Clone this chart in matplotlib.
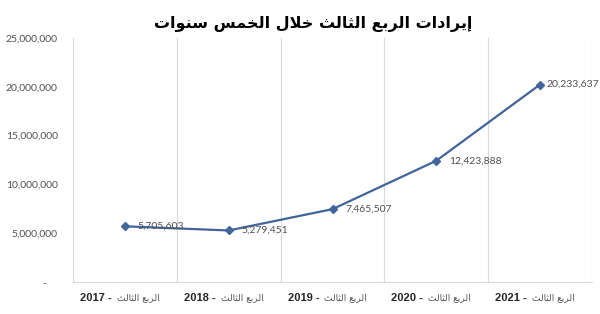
import unicodedata
import matplotlib
matplotlib.use('Agg')
import matplotlib.pyplot as plt
from matplotlib.ticker import FuncFormatter, MultipleLocator

# data
years = ['2017', '2018', '2019', '2020', '2021']
quarter = 'الربع الثالث'
revenue = [5705603, 5279451, 7465507, 12423888, 20233637]
title = 'إيرادات الربع الثالث خلال الخمس سنوات'

# matplotlib has no arabic shaping / bidi, so do a small one by hand
RIGHT_JOIN = set('اأإآدذرزوةى')
LAM_ALEF = {'ا': 'ARABIC LIGATURE LAM WITH ALEF',
            'أ': 'ARABIC LIGATURE LAM WITH ALEF WITH HAMZA ABOVE',
            'إ': 'ARABIC LIGATURE LAM WITH ALEF WITH HAMZA BELOW',
            'آ': 'ARABIC LIGATURE LAM WITH ALEF WITH MADDA ABOVE'}


def is_arabic(ch):
    return '\u0600' <= ch <= '\u06ff'


def shape_rtl(text):
    units = []
    i = 0
    while i < len(text):
        ch = text[i]
        if ch == 'ل' and i + 1 < len(text) and text[i + 1] in LAM_ALEF:
            units.append((LAM_ALEF[text[i + 1]], False, True))
            i += 2
            continue
        if is_arabic(ch):
            units.append((unicodedata.name(ch), ch not in RIGHT_JOIN, True))
        else:
            units.append((ch, False, False))
        i += 1
    out = []
    for k, (name, dual, arab) in enumerate(units):
        if not arab:
            out.append(name)
            continue
        prev = k > 0 and units[k - 1][2] and units[k - 1][1]
        nxt = dual and k + 1 < len(units) and units[k + 1][2]
        if prev and nxt:
            f = 'MEDIAL'
        elif prev:
            f = 'FINAL'
        elif nxt:
            f = 'INITIAL'
        else:
            f = 'ISOLATED'
        out.append(unicodedata.lookup(name + ' ' + f + ' FORM'))
    return ''.join(reversed(out))


plt.rcParams['font.family'] = ['DejaVu Sans']
num_font = ['Lato', 'DejaVu Sans']

fig = plt.figure(figsize=(6, 3.14), dpi=100)
ax = fig.add_axes([73 / 600, 1 - 282 / 314, 519 / 600, 244 / 314])

x = list(range(len(years)))
blue = '#41649b'
ax.plot(x, revenue, color=blue, lw=1.6, marker='D', ms=4.5, zorder=3)

label_dx = [13, 13, 13, 13, 6]
for xi, v, dx in zip(x, revenue, label_dx):
    ax.annotate(f'{v:,}', (xi, v), xytext=(dx, 0), textcoords='offset pixels',
                ha='left', va='center', fontsize=7.5, color='#505050',
                family=num_font)

ax.set_xlim(-0.5, len(years) - 0.5)
ax.set_ylim(0, 25000000)
ax.yaxis.set_major_locator(MultipleLocator(5000000))
ax.yaxis.set_major_formatter(FuncFormatter(lambda v, p: '-    ' if v == 0 else f'{v:,.0f}'))
ax.tick_params(axis='y', length=0, pad=11, labelsize=7.5, labelcolor='#505050')
for t in ax.get_yticklabels():
    t.set_family(num_font)

ax.set_xticks(x)
ax.set_xticklabels([''] * len(x))
ax.tick_params(axis='x', length=0)
ax.set_xticks([i - 0.5 for i in range(len(years) + 1)], minor=True)
ax.tick_params(axis='x', which='minor', length=0)
ax.grid(axis='x', which='minor', color='#d9d9d9', lw=0.8)
ax.grid(axis='x', which='major', visible=False)

for s in ['top', 'left', 'right']:
    ax.spines[s].set_visible(False)
ax.spines['bottom'].set_color('#d9d9d9')
ax.spines['bottom'].set_linewidth(0.8)

ar_q = shape_rtl(quarter)
for xi, yr in zip(x, years):
    ax.annotate(yr + ' -', (xi, 0), xycoords=('data', 'axes fraction'),
                xytext=(-13, -16), textcoords='offset pixels',
                ha='right', va='center', fontsize=8, fontweight='bold', color='#262626',
                family=['Liberation Sans', 'DejaVu Sans'])
    ax.annotate(ar_q, (xi, 0), xycoords=('data', 'axes fraction'),
                xytext=(-8, -16), textcoords='offset pixels',
                ha='left', va='center', fontsize=6.5, color='#595959')

fig.text(313 / 600, 1 - 24 / 314, shape_rtl(title), ha='center', va='center',
         fontsize=11.5, fontweight='bold', color='black')

fig.savefig('out.png', dpi=100, facecolor='white')
